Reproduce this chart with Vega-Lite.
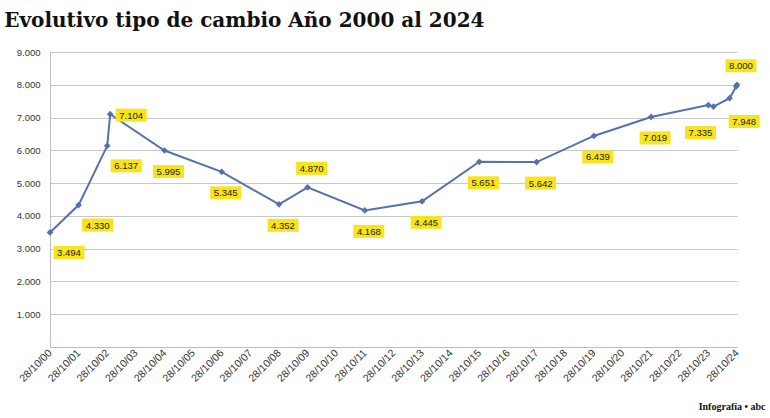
{
  "$schema": "https://vega.github.io/schema/vega-lite/v6.json",
  "autosize": "none",
  "width": 687,
  "height": 295,
  "padding": {"left": 50, "top": 52, "right": 33, "bottom": 71},
  "background": "white",
  "title": {
    "text": "Evolutivo tipo de cambio Año 2000 al 2024",
    "anchor": "start",
    "font": "DejaVu Serif",
    "fontWeight": "bold",
    "fontSize": 20,
    "color": "#111111",
    "baseline": "alphabetic",
    "offset": 0,
    "dx": -12
  },
  "config": {
    "view": {"stroke": null},
    "axis": {"labelFont": "Liberation Sans", "labelColor": "#333333"}
  },
  "data": {
    "values": [
      {"fecha": "2000-10-28", "valor": 3494, "etiqueta": "3.494"},
      {"fecha": "2001-10-28", "valor": 4330, "etiqueta": "4.330"},
      {"fecha": "2002-10-28", "valor": 6137, "etiqueta": "6.137"},
      {"fecha": "2002-12-05", "valor": 7104, "etiqueta": "7.104"},
      {"fecha": "2004-10-28", "valor": 5995, "etiqueta": "5.995"},
      {"fecha": "2006-10-28", "valor": 5345, "etiqueta": "5.345"},
      {"fecha": "2008-10-28", "valor": 4352, "etiqueta": "4.352"},
      {"fecha": "2009-10-28", "valor": 4870, "etiqueta": "4.870"},
      {"fecha": "2011-10-28", "valor": 4168, "etiqueta": "4.168"},
      {"fecha": "2013-10-28", "valor": 4445, "etiqueta": "4.445"},
      {"fecha": "2015-10-28", "valor": 5651, "etiqueta": "5.651"},
      {"fecha": "2017-10-28", "valor": 5642, "etiqueta": "5.642"},
      {"fecha": "2019-10-28", "valor": 6439, "etiqueta": "6.439"},
      {"fecha": "2021-10-28", "valor": 7019, "etiqueta": "7.019"},
      {"fecha": "2023-10-28", "valor": 7380, "etiqueta": null},
      {"fecha": "2024-01-02", "valor": 7335, "etiqueta": "7.335"},
      {"fecha": "2024-07-25", "valor": 7590, "etiqueta": null},
      {"fecha": "2024-10-18", "valor": 7948, "etiqueta": "7.948"},
      {"fecha": "2024-10-28", "valor": 8000, "etiqueta": "8.000"}
    ]
  },
  "encoding": {
    "x": {
      "field": "fecha",
      "type": "temporal",
      "scale": {
        "type": "utc",
        "domain": [
          {"year": 2000, "month": 10, "date": 28, "utc": true},
          {"year": 2024, "month": 10, "date": 28, "utc": true}
        ],
        "nice": false
      },
      "axis": {
        "title": "Infografía • abc",
        "titleFont": "Liberation Sans Narrow",
        "titleFontWeight": "bold",
        "titleFontSize": 10,
        "titleColor": "#111111",
        "titleAnchor": "end",
        "titleAlign": "right",
        "titleBaseline": "alphabetic",
        "titleX": 715,
        "titleY": 62,
        "labelExpr": "utcFormat(datum.value, '%d/%m/%y')",
        "labelAngle": -45,
        "labelAlign": "right",
        "labelBaseline": "middle",
        "labelFontSize": 10.5,
        "labelPadding": 4,
        "labelOverlap": false,
        "labelFlush": false,
        "ticks": false,
        "grid": false,
        "domainColor": "#bdbdbd",
        "values": [
          {"year": 2000, "month": 10, "date": 28, "utc": true},
          {"year": 2001, "month": 10, "date": 28, "utc": true},
          {"year": 2002, "month": 10, "date": 28, "utc": true},
          {"year": 2003, "month": 10, "date": 28, "utc": true},
          {"year": 2004, "month": 10, "date": 28, "utc": true},
          {"year": 2005, "month": 10, "date": 28, "utc": true},
          {"year": 2006, "month": 10, "date": 28, "utc": true},
          {"year": 2007, "month": 10, "date": 28, "utc": true},
          {"year": 2008, "month": 10, "date": 28, "utc": true},
          {"year": 2009, "month": 10, "date": 28, "utc": true},
          {"year": 2010, "month": 10, "date": 28, "utc": true},
          {"year": 2011, "month": 10, "date": 28, "utc": true},
          {"year": 2012, "month": 10, "date": 28, "utc": true},
          {"year": 2013, "month": 10, "date": 28, "utc": true},
          {"year": 2014, "month": 10, "date": 28, "utc": true},
          {"year": 2015, "month": 10, "date": 28, "utc": true},
          {"year": 2016, "month": 10, "date": 28, "utc": true},
          {"year": 2017, "month": 10, "date": 28, "utc": true},
          {"year": 2018, "month": 10, "date": 28, "utc": true},
          {"year": 2019, "month": 10, "date": 28, "utc": true},
          {"year": 2020, "month": 10, "date": 28, "utc": true},
          {"year": 2021, "month": 10, "date": 28, "utc": true},
          {"year": 2022, "month": 10, "date": 28, "utc": true},
          {"year": 2023, "month": 10, "date": 28, "utc": true},
          {"year": 2024, "month": 10, "date": 28, "utc": true}
        ]
      }
    },
    "y": {
      "field": "valor",
      "type": "quantitative",
      "scale": {"domain": [0, 9000], "nice": false},
      "axis": {
        "title": null,
        "values": [0, 1000, 2000, 3000, 4000, 5000, 6000, 7000, 8000, 9000],
        "labelExpr": "datum.value == 0 ? '' : replace(format(datum.value, ','), ',', '.')",
        "labelFontSize": 9.5,
        "labelPadding": 10,
        "ticks": false,
        "grid": true,
        "gridColor": "#c8c8c8",
        "gridWidth": 1,
        "domainColor": "#bdbdbd"
      }
    }
  },
  "layer": [
    {"mark": {"type": "line", "color": "#5672ac", "strokeWidth": 2}},
    {"mark": {"type": "point", "shape": "diamond", "filled": true, "size": 45, "color": "#5672ac", "opacity": 1}},
    {
      "transform": [{"filter": {"field": "etiqueta", "oneOf": ["3.494", "4.330", "6.137"]}}],
      "layer": [
        {"mark": {"type": "point", "shape": "M-1,-0.42H1V0.42H-1Z", "filled": true, "size": 961, "color": "#f8e41c", "opacity": 1, "xOffset": 19, "yOffset": 20}},
        {"mark": {"type": "text", "font": "Liberation Sans", "fontSize": 9.5, "color": "#222222", "xOffset": 19, "yOffset": 20.5}, "encoding": {"text": {"field": "etiqueta"}}}
      ]
    },
    {
      "transform": [{"filter": {"field": "etiqueta", "oneOf": ["5.995", "5.345", "4.352", "4.168", "4.445", "5.651", "5.642", "6.439", "7.019"]}}],
      "layer": [
        {"mark": {"type": "point", "shape": "M-1,-0.42H1V0.42H-1Z", "filled": true, "size": 961, "color": "#f8e41c", "opacity": 1, "xOffset": 4, "yOffset": 21}},
        {"mark": {"type": "text", "font": "Liberation Sans", "fontSize": 9.5, "color": "#222222", "xOffset": 4, "yOffset": 21.5}, "encoding": {"text": {"field": "etiqueta"}}}
      ]
    },
    {
      "transform": [{"filter": {"field": "etiqueta", "oneOf": ["7.104"]}}],
      "layer": [
        {"mark": {"type": "point", "shape": "M-1,-0.42H1V0.42H-1Z", "filled": true, "size": 961, "color": "#f8e41c", "opacity": 1, "xOffset": 21, "yOffset": 1}},
        {"mark": {"type": "text", "font": "Liberation Sans", "fontSize": 9.5, "color": "#222222", "xOffset": 21, "yOffset": 1.5}, "encoding": {"text": {"field": "etiqueta"}}}
      ]
    },
    {
      "transform": [{"filter": {"field": "etiqueta", "oneOf": ["4.870", "8.000"]}}],
      "layer": [
        {"mark": {"type": "point", "shape": "M-1,-0.42H1V0.42H-1Z", "filled": true, "size": 961, "color": "#f8e41c", "opacity": 1, "xOffset": 4, "yOffset": -19}},
        {"mark": {"type": "text", "font": "Liberation Sans", "fontSize": 9.5, "color": "#222222", "xOffset": 4, "yOffset": -18.5}, "encoding": {"text": {"field": "etiqueta"}}}
      ]
    },
    {
      "transform": [{"filter": {"field": "etiqueta", "oneOf": ["7.948"]}}],
      "layer": [
        {"mark": {"type": "point", "shape": "M-1,-0.42H1V0.42H-1Z", "filled": true, "size": 961, "color": "#f8e41c", "opacity": 1, "xOffset": 8, "yOffset": 35}},
        {"mark": {"type": "text", "font": "Liberation Sans", "fontSize": 9.5, "color": "#222222", "xOffset": 8, "yOffset": 35.5}, "encoding": {"text": {"field": "etiqueta"}}}
      ]
    },
    {
      "transform": [{"filter": {"field": "etiqueta", "oneOf": ["7.335"]}}],
      "layer": [
        {"mark": {"type": "point", "shape": "M-1,-0.42H1V0.42H-1Z", "filled": true, "size": 961, "color": "#f8e41c", "opacity": 1, "xOffset": -13, "yOffset": 26}},
        {"mark": {"type": "text", "font": "Liberation Sans", "fontSize": 9.5, "color": "#222222", "xOffset": -13, "yOffset": 26.5}, "encoding": {"text": {"field": "etiqueta"}}}
      ]
    }
  ]
}
